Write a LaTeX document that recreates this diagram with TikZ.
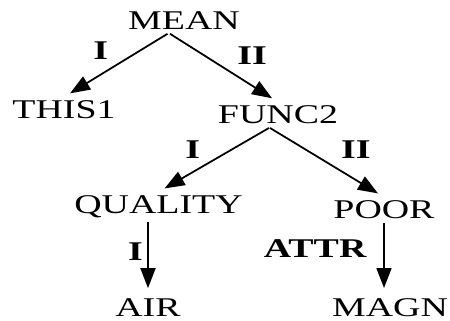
\documentclass[tikz,border=0pt]{standalone}
\usepackage{fontspec}
\newfontfamily\treefont[FakeStretch=1.4]{Liberation Serif}
\usepackage{tikz}
\usetikzlibrary{positioning, arrows.meta}
\tikzset{node distance=2cm, on grid,
  every node/.style={font=\treefont\fontsize{15.4}{16}\selectfont, inner sep=2pt},
  rel/.style={font=\treefont\fontsize{15.4}{16}\selectfont\bfseries, inner sep=1pt},
  every edge/.style={draw, line width=1pt, shorten >=4pt,
    -{Triangle[length=0.4cm, width=0.3cm]}}}

\begin{document}
\begin{tikzpicture}
            \useasboundingbox (0,0) rectangle (9,-6.42);
            \node (mean) at (3.68,-0.42) {MEAN};
            \node[below left=1.78cm and 2.4cm of mean] (this1) {THIS1};
            \node[below right=1.88cm and 1.88cm of mean] (func2) {FUNC2};
            \node[below left=1.84cm and 2.39cm of func2] (quality) {QUALITY};
            \node[below right=1.9cm and 2.12cm of func2] (poor) {POOR};
            \node[below left=2.02cm and 0.21cm of quality] (air) {AIR};
            \node[below right=1.96cm and 0.12cm of poor] (magn) {MAGN};

            \draw   ([xshift=-0.33cm]mean.south) edge node[rel, pos=.5, above left=0.06cm and 0.1cm] {I} (this1.north)
                    ([xshift=-0.28cm]mean.south) edge node[rel, pos=.6, above right=0.16cm and 0cm] {II} (func2.north)
                    ([xshift=-0.18cm]func2.south) edge node[rel, pos=.6, above left=0.1cm and 0cm] {I} (quality.north)
                    ([xshift=-0.16cm]func2.south) edge node[rel, pos=.6, above right=0.16cm and 0cm] {II} (poor.north)
                    (air.north |- quality.south) edge node[rel, pos=.4, left=0.05cm] {I} (air.north)
                    (poor.south) edge node[rel, pos=.35, left=0.3cm] {ATTR} (poor.south |- magn.north);
        \end{tikzpicture}
\end{document}
